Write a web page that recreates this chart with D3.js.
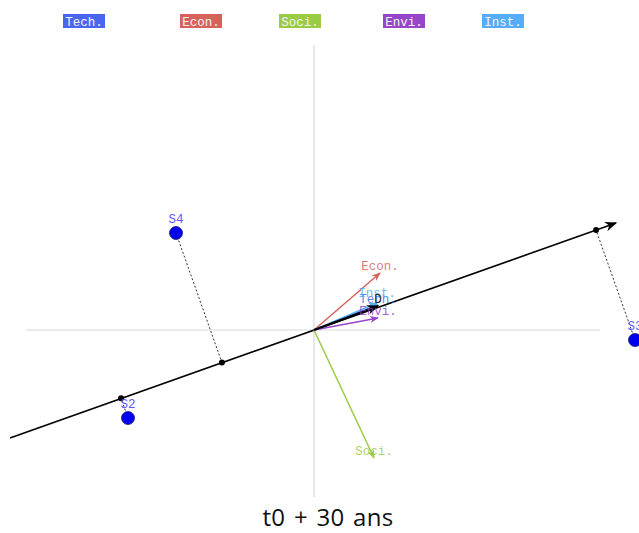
<!DOCTYPE html>
<html><head><meta charset="utf-8">
<script src="https://cdn.jsdelivr.net/npm/d3@7"></script>
<style>body{margin:0;background:#fff;}svg{display:block;}</style>
</head><body>
<svg id="c" width="639" height="533"></svg>
<script>
const criteria = ["Tech.", "Econ.", "Soci.", "Envi.", "Inst."];
const criteriaColors = ["#4a66f0", "#d6625b", "#9acb45", "#9646c8", "#55acf8"];
const vectorX = [0.64, 0.66, 0.60, 0.64, 0.63];
const vectorY = [0.25, 0.57, -1.28, 0.12, 0.27];
const scenarios = ["S4", "S2", "S3"];
const scenarioX = [-1.38, -1.86, 3.21];
const scenarioY = [0.97, -0.88, -0.10];
const decisionLabel = "D";
const decisionVec = [0.64, 0.24];
const axisStart = [-3.04, -1.08];
const axisEnd = [3.02, 1.07];
const title = "t0 + 30 ans";

const MONO = "'Liberation Mono', 'DejaVu Sans Mono', monospace";
const svg = d3.select("#c");
const x = d3.scaleLinear().domain([-3.14, 3.25]).range([0, 639]);
const y = d3.scaleLinear().domain([3.30, -2.03]).range([0, 533]);

const defs = svg.append("defs");
function marker(id, color, size) {
  defs.append("marker").attr("id", id).attr("viewBox", "0 0 10 10")
    .attr("refX", 9).attr("refY", 5).attr("markerWidth", size).attr("markerHeight", size)
    .attr("markerUnits", "userSpaceOnUse").attr("orient", "auto")
    .append("path").attr("d", "M0,1 L10,5 L0,9 L3,5 Z").attr("fill", color);
}
criteriaColors.forEach((c, i) => marker("m" + i, c, 9));
marker("mk", "#000", 12);

// grey axes
svg.append("line").attr("x1", x(-2.88)).attr("x2", x(2.86)).attr("y1", y(0)).attr("y2", y(0))
  .attr("stroke", "#d8d8d8").attr("stroke-width", 1.2);
svg.append("line").attr("x1", x(0)).attr("x2", x(0)).attr("y1", y(2.85)).attr("y2", y(-1.67))
  .attr("stroke", "#d8d8d8").attr("stroke-width", 1.2);

// legend
const legX = [63, 180, 279, 383, 482];
const leg = svg.append("g");
criteria.forEach((c, i) => {
  leg.append("rect").attr("x", legX[i]).attr("y", 14).attr("width", 42).attr("height", 14).attr("fill", criteriaColors[i]);
  leg.append("text").attr("x", legX[i] + 21).attr("y", 25.5).attr("text-anchor", "middle")
    .attr("font-family", MONO).attr("font-size", 12.5)
    .attr("fill", "#f4f4f4").text(c);
});

// main axis
const len2 = axisEnd[0] * axisEnd[0] + axisEnd[1] * axisEnd[1];
svg.append("line").attr("x1", x(axisStart[0])).attr("y1", y(axisStart[1]))
  .attr("x2", x(axisEnd[0])).attr("y2", y(axisEnd[1]))
  .attr("stroke", "#000").attr("stroke-width", 1.6).attr("marker-end", "url(#mk)");

// projections
scenarios.forEach((s, i) => {
  const t = (scenarioX[i] * axisEnd[0] + scenarioY[i] * axisEnd[1]) / len2;
  const px = t * axisEnd[0], py = t * axisEnd[1];
  svg.append("line").attr("x1", x(scenarioX[i])).attr("y1", y(scenarioY[i]))
    .attr("x2", x(px)).attr("y2", y(py)).attr("stroke", "#333").attr("stroke-width", 1)
    .attr("stroke-dasharray", "2,2");
  svg.append("circle").attr("cx", x(px)).attr("cy", y(py)).attr("r", 3).attr("fill", "#000");
});

// criteria vectors
criteria.forEach((c, i) => {
  svg.append("line").attr("x1", x(0)).attr("y1", y(0)).attr("x2", x(vectorX[i])).attr("y2", y(vectorY[i]))
    .attr("stroke", criteriaColors[i]).attr("stroke-width", 1.5).attr("marker-end", "url(#m" + i + ")");
});
// decision vector
svg.append("line").attr("x1", x(0)).attr("y1", y(0)).attr("x2", x(decisionVec[0])).attr("y2", y(decisionVec[1]))
  .attr("stroke", "#000").attr("stroke-width", 2.2).attr("marker-end", "url(#mk)");

// vector labels
const labOff = [-2, -3, -3, -3, -6];
criteria.forEach((c, i) => {
  svg.append("text").attr("x", x(vectorX[i])).attr("y", y(vectorY[i]) + labOff[i]).attr("text-anchor", "middle")
    .attr("font-family", MONO).attr("font-size", 12.5)
    .attr("fill", criteriaColors[i]).attr("fill-opacity", 0.85).text(c);
});
svg.append("text").attr("x", x(decisionVec[0])).attr("y", y(decisionVec[1]) - 3).attr("text-anchor", "middle")
  .attr("font-family", MONO).attr("font-size", 12.5)
  .attr("fill", "#222").text(decisionLabel);

// scenarios
scenarios.forEach((s, i) => {
  svg.append("circle").attr("cx", x(scenarioX[i])).attr("cy", y(scenarioY[i])).attr("r", 6.5)
    .attr("fill", "#0000ee").attr("stroke", "#1a1a6a").attr("stroke-width", 0.8);
  svg.append("text").attr("x", x(scenarioX[i])).attr("y", y(scenarioY[i]) - 10).attr("text-anchor", "middle")
    .attr("font-family", MONO).attr("font-size", 12.5)
    .attr("fill", "#5a5aff").text(s);
});

// title
svg.append("text").attr("x", 328).attr("y", 526).attr("text-anchor", "middle")
  .attr("font-family", "'Open Sans', 'Noto Sans', sans-serif").attr("font-size", 24)
  .attr("word-spacing", 2).attr("letter-spacing", 0.3)
  .attr("fill", "#111").text(title);
</script>
</body></html>
